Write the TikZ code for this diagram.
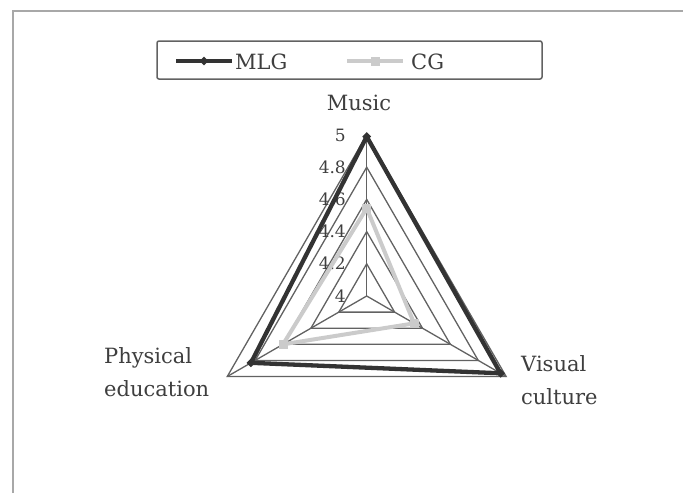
\documentclass[tikz,border=0pt]{standalone}
\usepackage{fontspec}
\setmainfont{DejaVu Serif}
\usetikzlibrary{calc,shapes.geometric}
\definecolor{txt}{HTML}{3E3E3E}
\definecolor{gridc}{HTML}{626262}
\definecolor{mlgc}{HTML}{333333}
\definecolor{cgc}{HTML}{CBCBCB}
\definecolor{framec}{HTML}{A8A8A8}
\begin{document}
\begin{tikzpicture}[x=1pt,y=-1pt,
  gridline/.style={draw=gridc,line width=1.3pt},
  mlgline/.style={draw=mlgc,line width=4.3pt,line join=round},
  cgline/.style={draw=cgc,line width=4pt,line join=round},
  mlgmark/.style={diamond,fill=mlgc,inner sep=0pt,minimum size=9pt},
  cgmark/.style={rectangle,fill=cgc,inner sep=0pt,minimum size=9pt},
  ticklabel/.style={anchor=east,text=txt,font=\fontsize{17}{20}\selectfont,inner sep=0pt},
  axislabel/.style={text=txt,font=\fontsize{21}{33}\selectfont,align=left,inner sep=0pt},
  legendtext/.style={anchor=west,text=txt,font=\fontsize{21}{25}\selectfont,inner sep=0pt}]
\useasboundingbox (0,0) rectangle (683,493);
% frame
\draw[framec,line width=1.2pt] (13,493) -- (13,11) -- (683,11);
% centre
\coordinate (C) at (366.7,296);
% grid rings
\foreach \v in {0.2,0.4,0.6,0.8,1.0}{
  \draw[gridline] ($(C)+(270:{161*\v})$) -- ($(C)+(30:{161*\v})$) -- ($(C)+(150:{161*\v})$) -- cycle;
}
% spokes
\coordinate (Amus) at ($(C)+(270:161)$);
\coordinate (Avis) at ($(C)+(30:161)$);
\coordinate (Aphy) at ($(C)+(150:161)$);
\draw[gridline] (C) -- (Amus);
\draw[gridline] (C) -- (Avis);
\draw[gridline] (C) -- (Aphy);
% tick labels
\foreach \v/\t in {0/4,0.2/4.2,0.4/4.4,0.6/4.6,0.8/4.8,1.0/5}{
  \node[ticklabel] (tick\t) at (346,{296-161*\v}) {\t};
}
% CG series
\coordinate (cg1) at ($(C)+(270:{161*0.545})$);
\coordinate (cg2) at ($(C)+(30:{161*0.34})$);
\coordinate (cg3) at ($(C)+(150:{161*0.60})$);
\draw[cgline] (cg1) -- (cg2) -- (cg3) -- cycle;
\foreach \p in {cg1,cg2,cg3}{\node[cgmark] (m\p) at (\p) {};}
% MLG series
\coordinate (ml1) at ($(C)+(270:{161*0.99})$);
\coordinate (ml2) at ($(C)+(30:{161*0.96})$);
\coordinate (ml3) at ($(C)+(150:{161*0.83})$);
\draw[mlgline] (ml1) -- (ml2) -- (ml3) -- cycle;
\foreach \p in {ml1,ml2,ml3}{\node[mlgmark] (m\p) at (\p) {};}
% axis labels
\node[axislabel] (lmus) at (359,103) {Music};
\node[axislabel,anchor=north west] (lphy) at (104,347) {Physical\\education};
\node[axislabel,anchor=north west] (lvis) at (521,355) {Visual\\culture};
% legend
\draw[draw=gridc,line width=1.5pt,rounded corners=2pt] (157,41) rectangle (542,79);
\coordinate (l1a) at (176,61);
\coordinate (l1b) at (232,61);
\draw[mlgline] (l1a) -- (l1b);
\node[mlgmark] (lm1) at (204,61) {};
\node[legendtext] (tmlg) at (235,62) {MLG};
\coordinate (l2a) at (347,61);
\coordinate (l2b) at (403,61);
\draw[cgline] (l2a) -- (l2b);
\node[cgmark] (lm2) at (375,61) {};
\node[legendtext] (tcg) at (411,62) {CG};
\end{tikzpicture}
\end{document}
